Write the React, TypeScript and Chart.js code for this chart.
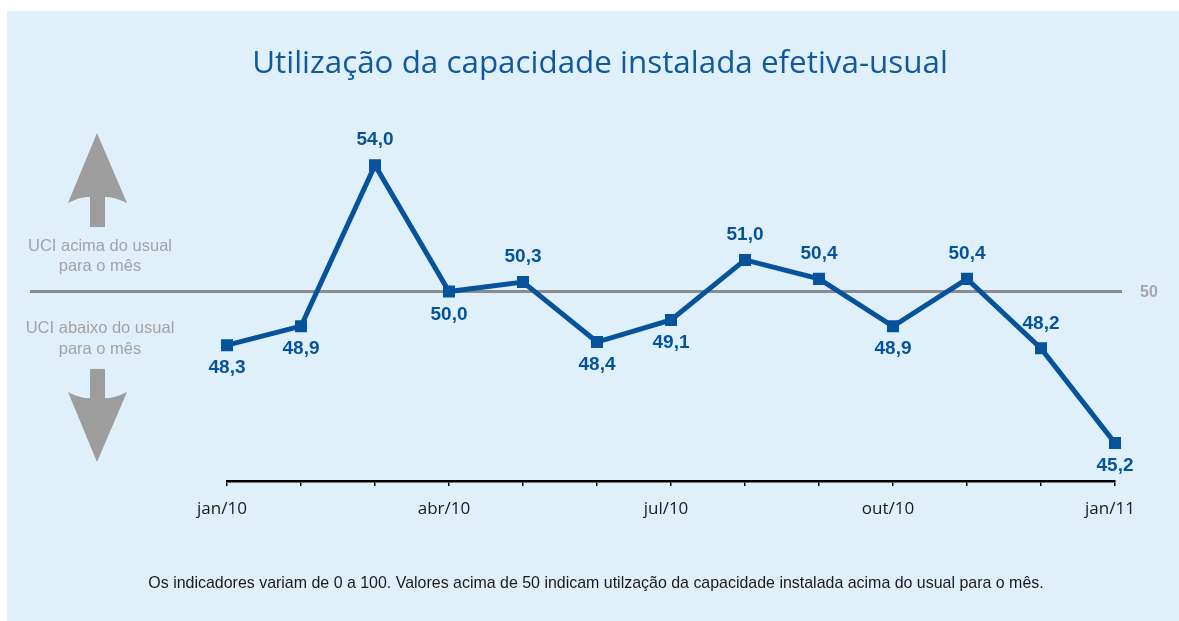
import React, { useEffect, useRef } from "react";
import { Chart, registerables } from "chart.js";

Chart.register(...registerables);

const months = ["jan/10", "fev/10", "mar/10", "abr/10", "mai/10", "jun/10", "jul/10", "ago/10", "set/10", "out/10", "nov/10", "dez/10", "jan/11"];
const shownLabels = ["jan/10", "", "", "abr/10", "", "", "jul/10", "", "", "out/10", "", "", "jan/11"];
const uciValues = [48.3, 48.9, 54.0, 50.0, 50.3, 48.4, 49.1, 51.0, 50.4, 48.9, 50.4, 48.2, 45.2];
const labelSide = ["below", "below", "above", "below", "above", "below", "below", "above", "above", "below", "above", "above", "below"];
const referenceValue = 50;
const titleText = "Utilização da capacidade instalada efetiva-usual";
const upperText = ["UCI acima do usual", "para o mês"];
const lowerText = ["UCI abaixo do usual", "para o mês"];
const footnoteText = "Os indicadores variam de 0 a 100. Valores acima de 50 indicam utilzação da capacidade instalada acima do usual para o mês.";

const BLUE = "#06539b";
const GRAY_TXT = "#a3a3a3";
const ARROW = "#9d9d9d";

function fitFont(ctx: CanvasRenderingContext2D, text: string, family: string, weight: string, width: number) {
  ctx.font = `${weight} 100px ${family}`;
  const w = ctx.measureText(text).width;
  return (100 * width) / w;
}

const decorPlugin = {
  id: "decor",
  beforeDraw(chart: any) {
    const ctx: CanvasRenderingContext2D = chart.ctx;
    ctx.save();
    ctx.fillStyle = "#dff0fa";
    ctx.fillRect(7, 11, chart.width - 7, chart.height - 11);

    // title
    const ts = fitFont(ctx, titleText, "'Open Sans', sans-serif", "normal", 696);
    ctx.font = `normal ${ts}px 'Open Sans', sans-serif`;
    ctx.fillStyle = "#11599e";
    ctx.textAlign = "center";
    ctx.textBaseline = "middle";
    ctx.fillText(titleText, 600, 64);

    // footnote
    const fs = fitFont(ctx, footnoteText, "'Liberation Sans', Arial, sans-serif", "normal", 896);
    ctx.font = `normal ${fs}px 'Liberation Sans', Arial, sans-serif`;
    ctx.fillStyle = "#1a1a1a";
    ctx.fillText(footnoteText, 596, 584);

    // side texts
    const ss = fitFont(ctx, upperText[0], "'Liberation Sans', Arial, sans-serif", "normal", 144);
    ctx.font = `normal ${ss}px 'Liberation Sans', Arial, sans-serif`;
    ctx.fillStyle = GRAY_TXT;
    ctx.fillText(upperText[0], 100, 246);
    ctx.fillText(upperText[1], 100, 266);
    ctx.fillText(lowerText[0], 100, 328);
    ctx.fillText(lowerText[1], 100, 349);

    // arrows
    ctx.fillStyle = ARROW;
    ctx.beginPath();
    ctx.moveTo(97, 133);
    ctx.lineTo(127, 203);
    ctx.quadraticCurveTo(113, 196, 105, 197);
    ctx.lineTo(105, 227);
    ctx.lineTo(90, 227);
    ctx.lineTo(90, 197);
    ctx.quadraticCurveTo(81, 196, 68, 203);
    ctx.closePath();
    ctx.fill();

    ctx.beginPath();
    ctx.moveTo(97, 462);
    ctx.lineTo(127, 392);
    ctx.quadraticCurveTo(113, 399, 105, 398);
    ctx.lineTo(105, 369);
    ctx.lineTo(90, 369);
    ctx.lineTo(90, 398);
    ctx.quadraticCurveTo(81, 399, 68, 392);
    ctx.closePath();
    ctx.fill();
    ctx.restore();
  },
  beforeDatasetsDraw(chart: any) {
    const ctx: CanvasRenderingContext2D = chart.ctx;
    const y = chart.scales.y.getPixelForValue(referenceValue);
    ctx.save();
    ctx.strokeStyle = "#8c8c8c";
    ctx.lineWidth = 3;
    ctx.beginPath();
    ctx.moveTo(30, y);
    ctx.lineTo(1122, y);
    ctx.stroke();
    ctx.font = "bold 16px 'Liberation Sans', Arial, sans-serif";
    ctx.fillStyle = "#a8a8a8";
    ctx.textAlign = "center";
    ctx.textBaseline = "middle";
    ctx.fillText(String(referenceValue), 1149, y + 1);
    ctx.restore();
  },
  afterDatasetsDraw(chart: any) {
    const ctx: CanvasRenderingContext2D = chart.ctx;
    const meta = chart.getDatasetMeta(0);
    ctx.save();
    ctx.font = "bold 19px 'Liberation Sans', Arial, sans-serif";
    ctx.fillStyle = BLUE;
    ctx.textAlign = "center";
    ctx.textBaseline = "middle";
    meta.data.forEach((pt: any, i: number) => {
      const txt = uciValues[i].toFixed(1).replace(".", ",");
      const dy = labelSide[i] === "above" ? -25 : 23;
      ctx.fillText(txt, pt.x, pt.y + dy);
    });
    ctx.restore();
  },
};

export default function App() {
  const ref = useRef<HTMLCanvasElement>(null);
  useEffect(() => {
    if (!ref.current) return;
    const chart = new Chart(ref.current, {
      type: "line",
      data: {
        labels: months,
        datasets: [
          {
            data: uciValues,
            borderColor: BLUE,
            backgroundColor: BLUE,
            borderWidth: 5,
            pointStyle: "rect",
            pointRadius: 8.5,
            pointBorderWidth: 0,
            pointBackgroundColor: BLUE,
            tension: 0,
            fill: false,
          },
        ],
      },
      options: {
        responsive: false,
        animation: false,
        events: [],
        layout: { padding: { left: 227, right: 64, top: 102, bottom: 100 } },
        plugins: { legend: { display: false }, tooltip: { enabled: false }, title: { display: false } },
        scales: {
          x: {
            type: "category",
            offset: false,
            grid: { display: true, drawOnChartArea: false, drawTicks: true, tickLength: 5, color: "#000", lineWidth: 1.5 },
            border: { display: true, color: "#000", width: 2.5 },
            ticks: {
              autoSkip: false,
              maxRotation: 0,
              minRotation: 0,
              padding: 13,
              labelOffset: -5,
              color: "#1a1a1a",
              font: { size: 17, family: "'Open Sans', sans-serif" },
              callback: (_v: any, i: number) => shownLabels[i],
            },
            afterFit: (s: any) => {
              s.height = 40;
            },
          },
          y: { display: false, min: 44, max: 56 },
        },
      },
      plugins: [decorPlugin],
    });
    return () => chart.destroy();
  }, []);
  return (
    <div style={{ position: "fixed", left: 0, top: 0, width: 1179, height: 621, background: "#fff" }}>
      <canvas ref={ref} width={1179} height={621} style={{ display: "block" }} />
    </div>
  );
}
